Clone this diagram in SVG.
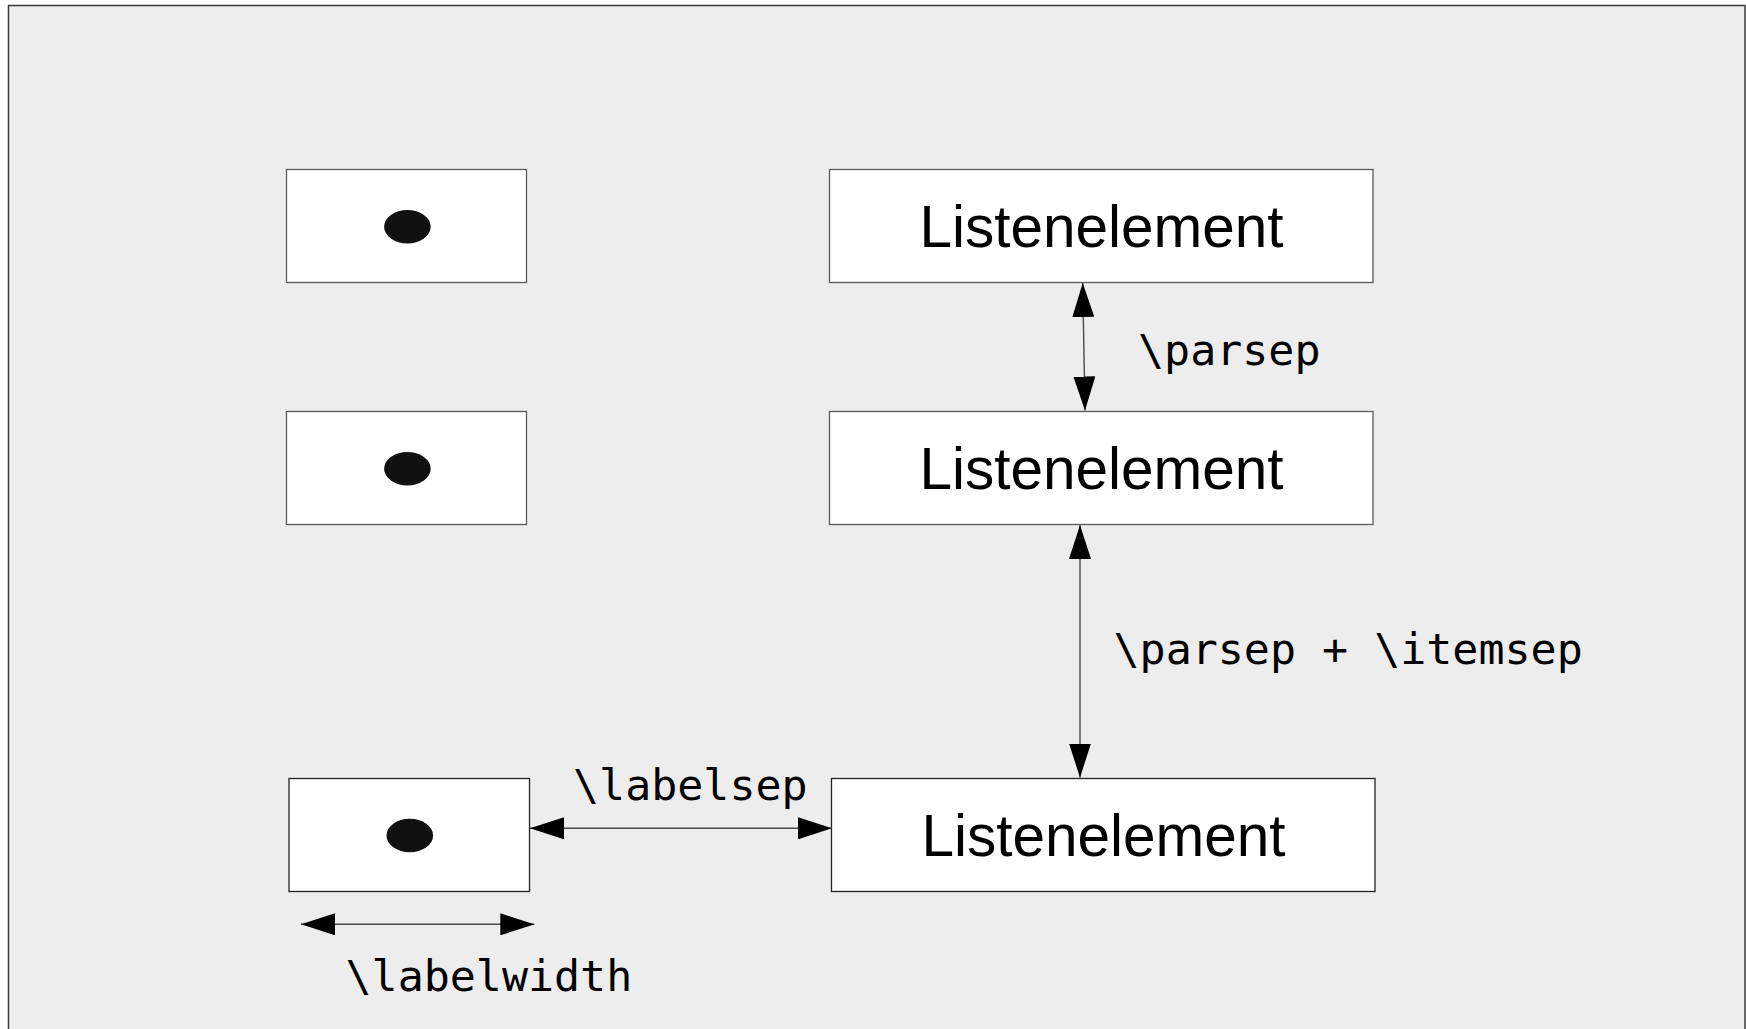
<svg xmlns="http://www.w3.org/2000/svg" width="1746" height="1029" viewBox="0 0 1746 1029">
  <style>
    .frame { fill: #ededed; stroke: #3a3a3a; stroke-width: 1.5; }
    .box { fill: #ffffff; stroke: #5a5a5a; stroke-width: 1.3; }
    .box.dark { stroke: #222222; }
    .dot { fill: #111111; }
    .item { font-family: "Liberation Sans", Arial, sans-serif; font-size: 58.5px; fill: #000000; text-anchor: middle; }
    .dim { font-family: "DejaVu Sans Mono", "Liberation Mono", monospace; font-size: 43.3px; fill: #000000; }
    .conn { fill: none; stroke: #4a4a4a; stroke-width: 1.4; marker-start: url(#head); marker-end: url(#head); }
  </style>
  <defs>
    <marker id="head" markerUnits="userSpaceOnUse" markerWidth="34" markerHeight="22" refX="34" refY="11" orient="auto-start-reverse" viewBox="0 0 34 22">
      <path d="M0,0 L34,11 L0,22 Z" fill="#000000"/>
    </marker>
  </defs>

  <!-- background panel -->
  <rect class="frame" x="8.5" y="5.5" width="1736.5" height="1040"/>

  <!-- label column -->
  <g id="label1">
    <rect class="box" x="286.5" y="169.5" width="240" height="113"/>
    <ellipse class="dot" cx="407.4" cy="226.7" rx="23.3" ry="16.7"/>
  </g>
  <g id="label2">
    <rect class="box" x="286.5" y="411.5" width="240" height="113"/>
    <ellipse class="dot" cx="407.4" cy="468.7" rx="23.3" ry="16.7"/>
  </g>
  <g id="label3">
    <rect class="box dark" x="289" y="778.5" width="240.5" height="113"/>
    <ellipse class="dot" cx="409.8" cy="835.5" rx="23.3" ry="16.7"/>
  </g>

  <!-- item column -->
  <g id="item1">
    <rect class="box" x="829.5" y="169.5" width="543.5" height="113"/>
    <text class="item" x="1101.5" y="246.7">Listenelement</text>
  </g>
  <g id="item2">
    <rect class="box" x="829.5" y="411.5" width="543.5" height="113"/>
    <text class="item" x="1101.5" y="488.7">Listenelement</text>
  </g>
  <g id="item3">
    <rect class="box dark" x="831.5" y="778.5" width="543.5" height="113"/>
    <text class="item" x="1103.5" y="855.7">Listenelement</text>
  </g>

  <!-- dimension arrows -->
  <g id="connectors">
    <line class="conn" x1="1082.7" y1="283" x2="1085" y2="410.5"/>
    <line class="conn" x1="1080" y1="525" x2="1080" y2="777.5"/>
    <line class="conn" x1="530" y1="828.3" x2="832" y2="828.3"/>
    <line class="conn" x1="301" y1="924.3" x2="534.3" y2="924.3"/>
  </g>

  <!-- dimension labels -->
  <g id="dimension-labels">
    <text class="dim" x="1138" y="365">\parsep</text>
    <text class="dim" x="1113.5" y="663.5">\parsep + \itemsep</text>
    <text class="dim" x="573" y="800">\labelsep</text>
    <text class="dim" x="345.5" y="991">\labelwidth</text>
  </g>
</svg>
